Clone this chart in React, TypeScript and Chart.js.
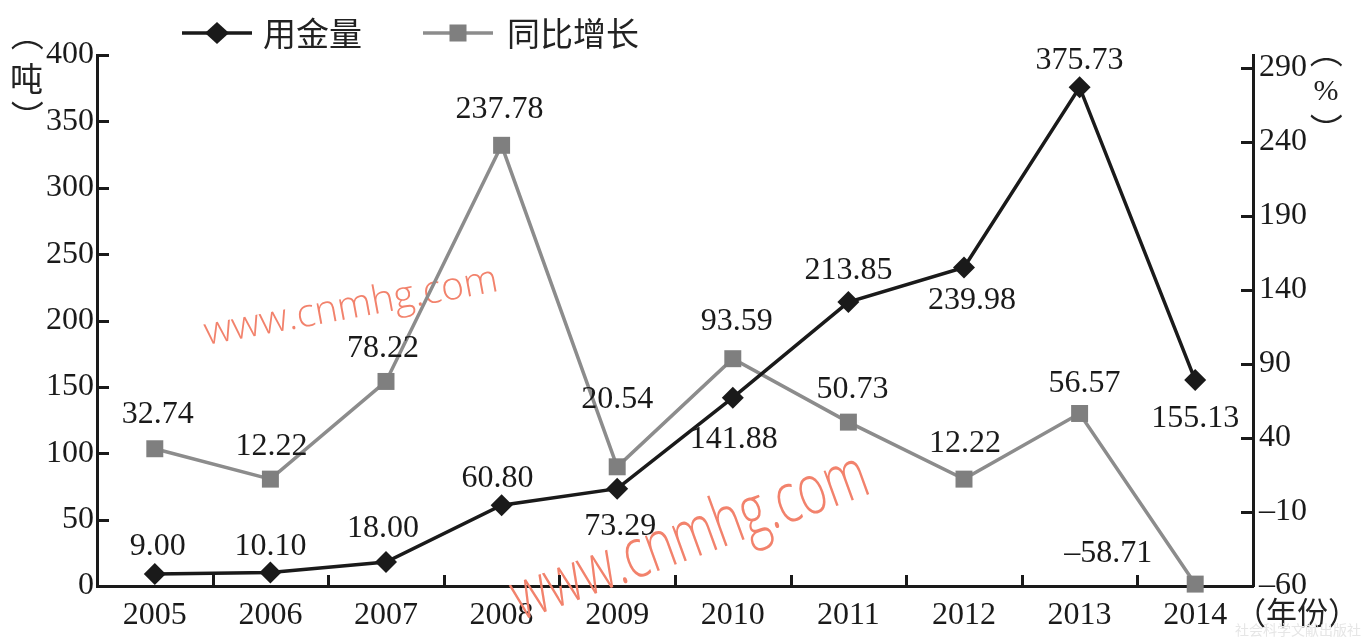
import React, { useEffect, useRef } from 'react';
import { Chart, registerables } from 'chart.js';

Chart.register(...registerables);

// ---------- data ----------
const years = ['2005', '2006', '2007', '2008', '2009', '2010', '2011', '2012', '2013', '2014'];
const goldUse = [9.0, 10.1, 18.0, 60.8, 73.29, 141.88, 213.85, 239.98, 375.73, 155.13];
const yoyGrowth = [32.74, 12.22, 78.22, 237.78, 20.54, 93.59, 50.73, 12.22, 56.57, -58.71];
const seriesNames = ['用金量', '同比增长'];
const leftTicks = [0, 50, 100, 150, 200, 250, 300, 350, 400];
const rightTicks = [-60, -10, 40, 90, 140, 190, 240, 290];
const leftTitle = ['（', '吨', '）'];
const rightTitle = ['（', '%', '）'];
const xTitle = '（年份）';
const watermarkText = 'www.cnmhg.com';
const footerText = '社会科学文献出版社';

// label placement (pixel offsets from the point)
const goldLabelOffsets = [[3, -27], [0, -26], [-3, -34], [-4, -27], [3, 38], [1, 42], [0, -32], [8, 33], [0, -27], [0, 39]];
const yoyLabelOffsets = [[3, -34], [1, -33], [-3, -33], [-2, -36], [0, -67], [4, -37], [4, -33], [1, -36], [5, -30], [-87, -30]];

const SERIF = "'Liberation Serif', 'Times New Roman', serif";
const CJK = "'Noto Sans CJK SC', 'Noto Sans CJK JP', sans-serif";
const INK = '#1a1a1a';
const GRAY_LINE = '#8c8c8c';
const GRAY_PT = '#7f7f7f';
const WM = '#f2826c';

const fmt = (v: number) => v.toFixed(2).replace('-', '–');

// draw a glyph so that its ink box is centred on (x, y), optionally rotated
function drawCentered(ctx: CanvasRenderingContext2D, ch: string, x: number, y: number, rot: number) {
  ctx.save();
  ctx.textAlign = 'left';
  ctx.textBaseline = 'alphabetic';
  const m = ctx.measureText(ch);
  const cx = (m.actualBoundingBoxRight - m.actualBoundingBoxLeft) / 2;
  const cy = (m.actualBoundingBoxDescent - m.actualBoundingBoxAscent) / 2;
  ctx.translate(x, y);
  ctx.rotate(rot);
  ctx.fillText(ch, -cx, -cy);
  ctx.restore();
}

const decor = {
  id: 'decor',
  beforeDatasetsDraw(chart: any) {
    const ctx = chart.ctx as CanvasRenderingContext2D;
    const { left, right, bottom } = chart.chartArea;
    // watermarks
    ctx.save();
    ctx.fillStyle = WM;
    ctx.textAlign = 'center';
    ctx.textBaseline = 'middle';
    ctx.save();
    ctx.translate(351, 307);
    ctx.rotate((-10.5 * Math.PI) / 180);
    ctx.font = "300 39px 'Open Sans', 'Liberation Sans', sans-serif";
    ctx.fillText(watermarkText, 0, 0);
    ctx.restore();
    ctx.save();
    ctx.translate(690, 538);
    ctx.rotate((-20 * Math.PI) / 180);
    ctx.scale(0.7, 1);
    ctx.font = "300 70px 'Open Sans', 'Liberation Sans', sans-serif";
    ctx.fillText(watermarkText, 0, 0);
    ctx.restore();
    ctx.restore();

    // inward tick marks
    ctx.save();
    ctx.strokeStyle = INK;
    ctx.lineWidth = 3;
    const ys = chart.scales.y;
    const ys1 = chart.scales.y1;
    const xs = chart.scales.x;
    ctx.beginPath();
    leftTicks.forEach((v) => {
      const y = Math.round(ys.getPixelForValue(v)) + 0.5;
      ctx.moveTo(left, y);
      ctx.lineTo(left + 12, y);
    });
    rightTicks.forEach((v) => {
      const y = Math.round(ys1.getPixelForValue(v)) + 0.5;
      ctx.moveTo(right, y);
      ctx.lineTo(right - 12, y);
    });
    for (let i = 1; i < years.length; i++) {
      const x = Math.round((xs.getPixelForValue(i - 1) + xs.getPixelForValue(i)) / 2) + 0.5;
      ctx.moveTo(x, bottom);
      ctx.lineTo(x, bottom - 11);
    }
    ctx.stroke();
    ctx.restore();
  },
  afterDatasetsDraw(chart: any) {
    const ctx = chart.ctx as CanvasRenderingContext2D;
    ctx.save();
    ctx.fillStyle = INK;
    ctx.font = `32px ${SERIF}`;
    ctx.textAlign = 'center';
    ctx.textBaseline = 'middle';
    const m0 = chart.getDatasetMeta(0).data;
    const m1 = chart.getDatasetMeta(1).data;
    goldUse.forEach((v, i) => {
      const p = m0[i];
      ctx.fillText(fmt(v), p.x + goldLabelOffsets[i][0], p.y + goldLabelOffsets[i][1]);
    });
    yoyGrowth.forEach((v, i) => {
      const p = m1[i];
      ctx.fillText(fmt(v), p.x + yoyLabelOffsets[i][0], p.y + yoyLabelOffsets[i][1]);
    });
    ctx.restore();
  },
  afterDraw(chart: any) {
    const ctx = chart.ctx as CanvasRenderingContext2D;
    ctx.save();
    // legend
    const ly = 33;
    ctx.lineWidth = 3.5;
    ctx.strokeStyle = INK;
    ctx.beginPath();
    ctx.moveTo(182, ly);
    ctx.lineTo(252, ly);
    ctx.stroke();
    ctx.fillStyle = INK;
    ctx.beginPath();
    ctx.moveTo(217, ly - 11);
    ctx.lineTo(229, ly);
    ctx.lineTo(217, ly + 11);
    ctx.lineTo(205, ly);
    ctx.closePath();
    ctx.fill();
    ctx.strokeStyle = GRAY_LINE;
    ctx.beginPath();
    ctx.moveTo(423, ly);
    ctx.lineTo(493, ly);
    ctx.stroke();
    ctx.fillStyle = GRAY_PT;
    ctx.fillRect(449.5, ly - 8.5, 17, 17);
    ctx.fillStyle = '#222';
    ctx.font = `33px ${CJK}`;
    ctx.textAlign = 'left';
    ctx.textBaseline = 'middle';
    ctx.fillText(seriesNames[0], 263, ly);
    ctx.fillText(seriesNames[1], 507, ly);

    // left axis title (vertical)
    const Q = Math.PI / 2;
    ctx.font = `33px ${CJK}`;
    drawCentered(ctx, leftTitle[0], 27, 45, Q);
    drawCentered(ctx, leftTitle[1], 27, 78, 0);
    drawCentered(ctx, leftTitle[2], 27, 106, Q);
    // right axis title
    drawCentered(ctx, rightTitle[0], 1326, 62, Q);
    drawCentered(ctx, rightTitle[2], 1326, 119, Q);
    ctx.font = `30px ${SERIF}`;
    drawCentered(ctx, rightTitle[1], 1326, 90, 0);
    // x title
    ctx.font = `31px ${CJK}`;
    ctx.textAlign = 'center';
    ctx.textBaseline = 'middle';
    ctx.fillText(xTitle, 1297, 612);

    // faint footer
    ctx.fillStyle = '#e6e6e6';
    ctx.font = `14px ${CJK}`;
    ctx.textAlign = 'right';
    ctx.fillText(footerText, 1361, 630);
    ctx.restore();
  },
};

export default function App() {
  const ref = useRef<HTMLCanvasElement>(null);
  useEffect(() => {
    document.body.style.margin = '0';
    const tickFont = { family: SERIF, size: 32 };
    const chart = new Chart(ref.current as HTMLCanvasElement, {
      type: 'line',
      data: {
        labels: years,
        datasets: [
          {
            label: seriesNames[0],
            data: goldUse,
            yAxisID: 'y',
            borderColor: INK,
            backgroundColor: INK,
            pointBackgroundColor: INK,
            pointBorderColor: INK,
            borderWidth: 3.5,
            pointStyle: 'rectRot',
            pointRadius: 11,
            pointBorderWidth: 0,
            tension: 0,
            clip: false,
          } as any,
          {
            label: seriesNames[1],
            data: yoyGrowth,
            yAxisID: 'y1',
            borderColor: GRAY_LINE,
            backgroundColor: GRAY_PT,
            pointBackgroundColor: GRAY_PT,
            pointBorderColor: GRAY_PT,
            borderWidth: 3.5,
            pointStyle: 'rect',
            pointRadius: 12,
            pointBorderWidth: 0,
            tension: 0,
            clip: false,
          } as any,
        ],
      },
      options: {
        responsive: false,
        animation: false,
        devicePixelRatio: 1,
        layout: { padding: { top: 55, left: 0, right: 0, bottom: 0 } },
        plugins: { legend: { display: false }, tooltip: { enabled: false } },
        scales: {
          x: {
            type: 'category',
            offset: true,
            grid: { display: true, drawOnChartArea: false, drawTicks: false },
            border: { display: true, color: INK, width: 3 },
            ticks: { color: INK, font: tickFont, padding: 10, maxRotation: 0, autoSkip: false },
            afterFit: (s: any) => {
              s.height = 53;
            },
          },
          y: {
            position: 'left',
            min: 0,
            max: 400,
            afterBuildTicks: (s: any) => {
              s.ticks = leftTicks.map((v) => ({ value: v }));
            },
            grid: { display: true, drawOnChartArea: false, drawTicks: false },
            border: { display: true, color: INK, width: 3 },
            ticks: { color: INK, font: tickFont, padding: 3, autoSkip: false },
            afterFit: (s: any) => {
              s.width = 97;
            },
          },
          y1: {
            position: 'right',
            min: -60,
            max: 298.8,
            afterBuildTicks: (s: any) => {
              s.ticks = rightTicks.map((v) => ({ value: v }));
            },
            grid: { display: true, drawOnChartArea: false, drawTicks: false },
            border: { display: true, color: INK, width: 3 },
            ticks: {
              color: INK,
              font: tickFont,
              padding: 6,
              autoSkip: false,
              callback: (v: any) => String(v).replace('-', '–'),
            },
            afterFit: (s: any) => {
              s.width = 108;
            },
          },
        },
      } as any,
      plugins: [decor],
    });
    return () => chart.destroy();
  }, []);
  return (
    <div style={{ width: 1361, height: 639, background: '#fff' }}>
      <canvas ref={ref} width={1361} height={639} style={{ display: 'block' }} />
    </div>
  );
}
